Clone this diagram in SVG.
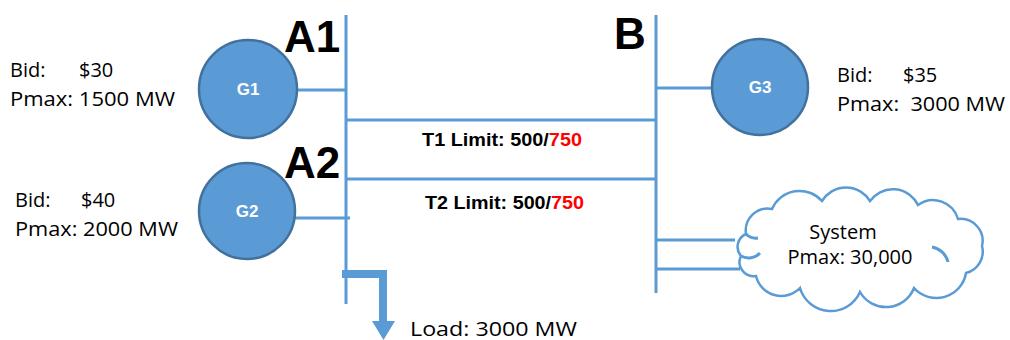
<svg xmlns="http://www.w3.org/2000/svg" width="1010" height="340" viewBox="0 0 1010 340">
<style>
.ln{stroke:#5B9BD5;stroke-width:3;fill:none}
.gen{fill:#5B9BD5;stroke:#41719C;stroke-width:2.5}
.gl{font-family:"Liberation Sans",Arial,sans-serif;font-weight:bold;font-size:17px;fill:#fff;text-anchor:middle}
.t{font-family:"Open Sans","Liberation Sans",sans-serif;font-size:20px;fill:#000}
.big{font-family:"Liberation Sans",Arial,sans-serif;font-weight:bold;font-size:44px;fill:#000}
.lim{font-family:"Liberation Sans",Arial,sans-serif;font-weight:bold;font-size:18px;fill:#000}
.red{fill:#FF0000}
</style>
<rect width="1010" height="340" fill="#fff"/>
<g id="connectors">
<line class="ln" x1="346" y1="15" x2="346" y2="304"/>
<line class="ln" x1="656" y1="15" x2="656" y2="293"/>
<line class="ln" x1="298" y1="90" x2="346" y2="90"/>
<line class="ln" x1="295" y1="218" x2="350" y2="218"/>
<line class="ln" x1="346" y1="120" x2="656" y2="120"/>
<line class="ln" x1="346" y1="179" x2="656" y2="179"/>
<line class="ln" x1="656" y1="88" x2="712" y2="88"/>
<line class="ln" x1="656" y1="240" x2="735" y2="240"/>
<line class="ln" x1="656" y1="269" x2="740" y2="269"/>
<path d="M342 274 H383 V322" stroke="#5B9BD5" stroke-width="8" fill="none"/>
<polygon points="372,321 395,321 383.5,340" fill="#5B9BD5"/>
</g>
<g id="A1"><text class="big" x="284" y="52">A1</text></g>
<g id="A2"><text class="big" x="284" y="178">A2</text></g>
<g id="B"><text class="big" x="614" y="49">B</text></g>
<g id="G1">
<circle class="gen" cx="248" cy="89" r="49"/>
<text class="gl" x="248" y="95">G1</text>
<text class="t" x="10" y="77">Bid:</text><text class="t" x="79" y="77">$30</text>
<text class="t" x="10" y="106" textLength="165" lengthAdjust="spacingAndGlyphs">Pmax: 1500 MW</text>
</g>
<g id="G2">
<circle class="gen" cx="247" cy="211" r="48"/>
<text class="gl" x="247" y="217">G2</text>
<text class="t" x="15" y="207">Bid:</text><text class="t" x="81" y="207">$40</text>
<text class="t" x="15" y="236" textLength="163" lengthAdjust="spacingAndGlyphs">Pmax: 2000 MW</text>
</g>
<g id="G3">
<circle class="gen" cx="760" cy="87" r="48"/>
<text class="gl" x="760" y="93">G3</text>
<text class="t" x="837" y="82">Bid:</text><text class="t" x="903" y="82">$35</text>
<text class="t" x="837" y="111" xml:space="preserve" textLength="168" lengthAdjust="spacingAndGlyphs">Pmax:  3000 MW</text>
</g>
<g id="T1"><text class="lim" x="422" y="146" textLength="160" lengthAdjust="spacingAndGlyphs">T1 Limit: 500/<tspan class="red">750</tspan></text></g>
<g id="T2"><text class="lim" x="425" y="209" textLength="159" lengthAdjust="spacingAndGlyphs">T2 Limit: 500/<tspan class="red">750</tspan></text></g>
<g id="System">
<path d="M746 234 A22 22 0 0 1 772 209 A30 30 0 0 1 822 201 A28 28 0 0 1 870 201 A28 28 0 0 1 918 205 A26 26 0 0 1 958 219 A22 22 0 0 1 982 246 A22 22 0 0 1 966 273 A30 30 0 0 1 914 288 A30 30 0 0 1 860 292 A32 32 0 0 1 800 288 A26 26 0 0 1 756 276 A14 14 0 0 1 741 256 A14 14 0 0 1 746 234 Z" fill="#fff" stroke="#5B9BD5" stroke-width="2.5"/>
<path d="M741 256 A16 16 0 0 0 760 253" class="ln" stroke-width="2.5"/>
<path d="M932 247 A20 20 0 0 1 948 262" class="ln" stroke-width="2.5"/>
<path d="M746 234 A14 14 0 0 0 758 238" class="ln" stroke-width="2"/>
<text class="t" x="843" y="239" text-anchor="middle" font-size="18">System</text>
<text class="t" x="850" y="264" text-anchor="middle" font-size="18">Pmax: 30,000</text>
</g>
<g id="Load"><text class="t" x="410" y="336" textLength="167" lengthAdjust="spacingAndGlyphs">Load: 3000 MW</text></g>
</svg>
